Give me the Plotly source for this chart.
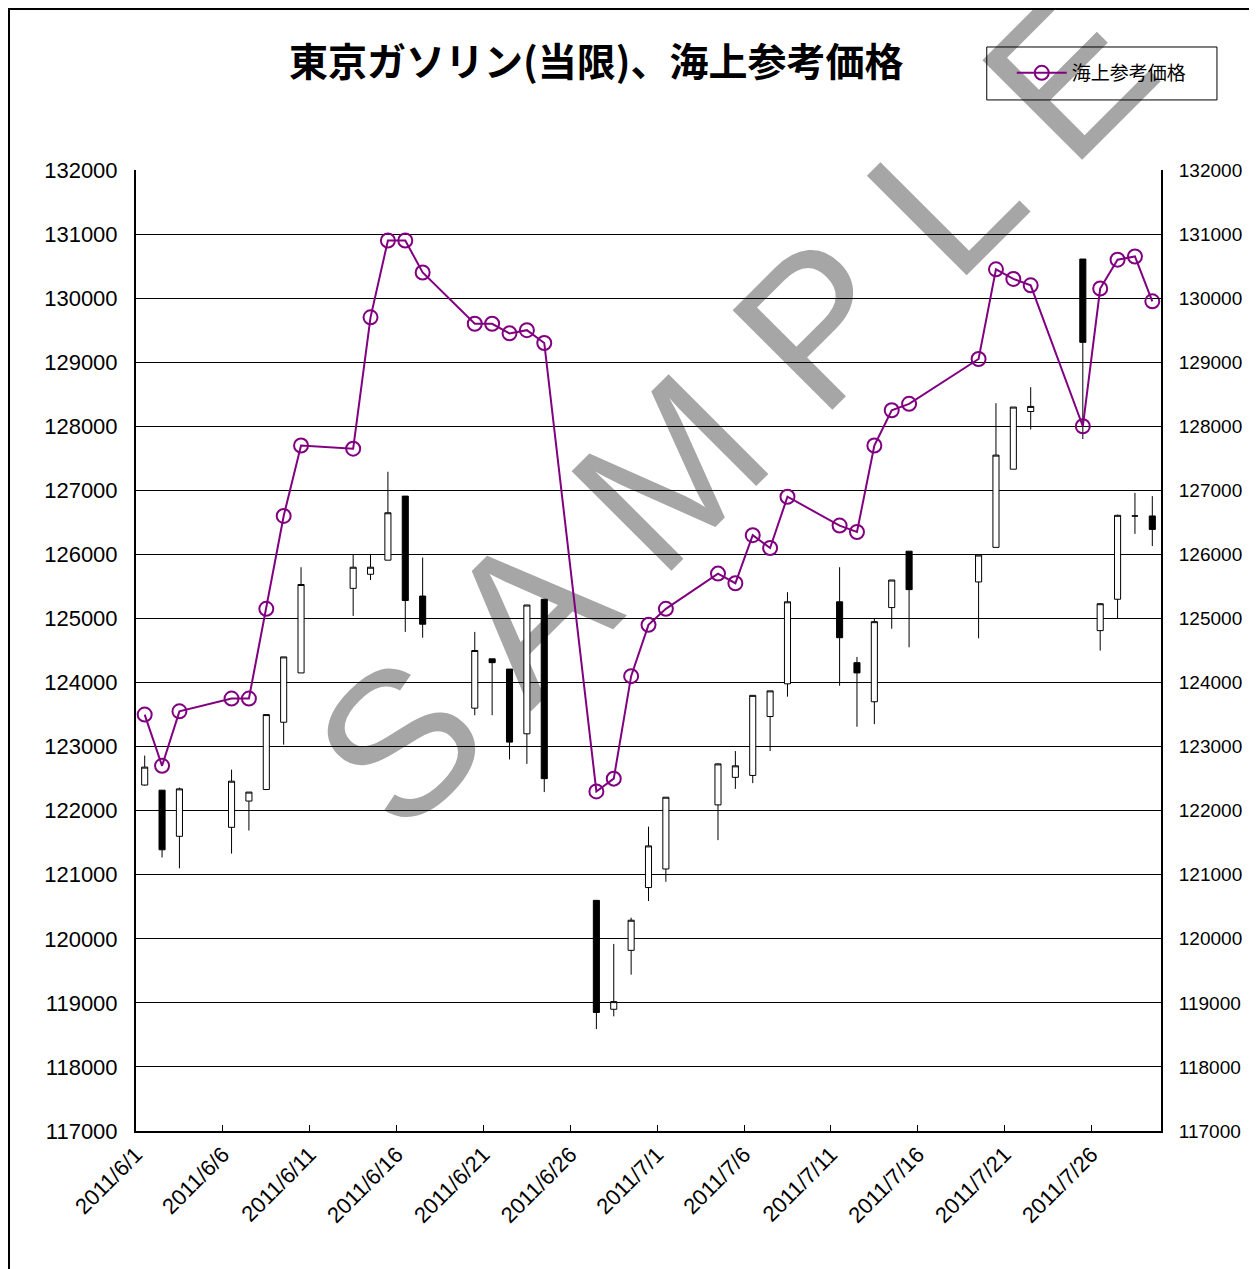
import plotly.graph_objects as go

# 東京ガソリン(当限) daily OHLC
dates = [
    "2011-06-01", "2011-06-02", "2011-06-03", "2011-06-06", "2011-06-07", "2011-06-08",
    "2011-06-09", "2011-06-10", "2011-06-13", "2011-06-14", "2011-06-15", "2011-06-16",
    "2011-06-17", "2011-06-20", "2011-06-21", "2011-06-22", "2011-06-23", "2011-06-24",
    "2011-06-27", "2011-06-28", "2011-06-29", "2011-06-30", "2011-07-01", "2011-07-04",
    "2011-07-05", "2011-07-06", "2011-07-07", "2011-07-08", "2011-07-11", "2011-07-12",
    "2011-07-13", "2011-07-14", "2011-07-15", "2011-07-19", "2011-07-20", "2011-07-21",
    "2011-07-22", "2011-07-25", "2011-07-26", "2011-07-27", "2011-07-28", "2011-07-29",
]
opens = [
    122400, 122320, 121600, 121740, 122150, 122330, 123380, 124150, 125470, 125690,
    125910, 126910, 125350, 123600, 124370, 124210, 123200, 125300, 120600, 118900,
    119820, 120800, 121090, 122090, 122520, 122550, 123470, 123980, 125260, 124310,
    123700, 125170, 126050, 125570, 126110, 127330, 128230, 130610, 124810, 125300,
    126600, 126600,
]
highs = [
    122860, 122320, 122360, 122640, 122290, 123500, 124400, 125800, 126000, 126000,
    127290, 126910, 125950, 124790, 124370, 124210, 125210, 125300, 120600, 119920,
    120330, 121750, 122210, 122740, 122930, 123800, 123870, 125410, 125800, 124400,
    125000, 125600, 126050, 125990, 128360, 128300, 128610, 130610, 125240, 126620,
    126960, 126910,
]
lows = [
    122390, 121270, 121100, 121330, 121690, 122330, 123030, 124150, 125040, 125600,
    125910, 124790, 124700, 123490, 123490, 122800, 122730, 122290, 118590, 118790,
    119440, 120590, 120890, 121540, 122340, 122430, 122930, 123780, 123950, 123310,
    123350, 124840, 124550, 124690, 126110, 127330, 127950, 127800, 124500, 125000,
    126320, 126130,
]
closes = [
    122680, 121390, 122340, 122460, 122290, 123500, 124400, 125530, 125800, 125800,
    126650, 125280, 124910, 124500, 124310, 123070, 125210, 122500, 118850, 119020,
    120290, 121450, 122210, 122730, 122700, 123800, 123870, 125260, 124700, 124150,
    124950, 125600, 125450, 125990, 127550, 128300, 128310, 129310, 125230, 126610,
    126600, 126390,
]

# 海上参考価格
ref_price = [
    123500, 122700, 123550, 123750, 123750, 125150, 126600, 127700, 127650, 129700,
    130900, 130900, 130400, 129600, 129600, 129450, 129500, 129300, 122300, 122500,
    124100, 124900, 125150, 125700, 125550, 126300, 126100, 126900, 126450, 126350,
    127700, 128250, 128350, 129050, 130450, 130300, 130200, 128000, 130150, 130600,
    130650, 129950,
]

tick_dates = [
    "2011-05-31 12:00", "2011-06-05 12:00", "2011-06-10 12:00", "2011-06-15 12:00",
    "2011-06-20 12:00", "2011-06-25 12:00", "2011-06-30 12:00", "2011-07-05 12:00",
    "2011-07-10 12:00", "2011-07-15 12:00", "2011-07-20 12:00", "2011-07-25 12:00",
]
tick_labels = [
    "2011/6/1", "2011/6/6", "2011/6/11", "2011/6/16", "2011/6/21", "2011/6/26",
    "2011/7/1", "2011/7/6", "2011/7/11", "2011/7/16", "2011/7/21", "2011/7/26",
]

JP = "Noto Sans CJK JP"
NUM = "Liberation Sans"

fig = go.Figure()
fig.add_trace(go.Candlestick(
    x=dates, open=opens, high=highs, low=lows, close=closes,
    increasing=dict(line=dict(color="black", width=1), fillcolor="white"),
    decreasing=dict(line=dict(color="black", width=1), fillcolor="black"),
    showlegend=False, hoverinfo="skip",
))
fig.add_trace(go.Scatter(
    x=dates, y=ref_price, name="海上参考価格", yaxis="y2",
    mode="lines+markers",
    line=dict(color="#800080", width=2),
    marker=dict(symbol="circle-open", size=14, color="#800080", line=dict(width=2)),
))

# watermark, drawn beneath gridlines and data
fig.add_shape(type="rect", xref="paper", yref="paper",
              x0=0.565, x1=0.575, y0=0.762, y1=0.772,
              line=dict(width=0), fillcolor="rgba(0,0,0,0)", layer="below",
              label=dict(text="S A M P L E", textangle=-45, textposition="middle center",
                         font=dict(family=NUM, size=205, color="#a6a6a6")))
# outer chart frame (figure edge)
fig.add_shape(type="rect", xref="paper", yref="paper",
              x0=-0.1239, x1=1.2, y0=-0.2, y1=1.1675,
              line=dict(color="black", width=2), layer="below")
# legend frame
fig.add_shape(type="rect", xref="paper", yref="paper",
              x0=0.830, x1=1.0546, y0=1.0729, y1=1.128,
              line=dict(color="black", width=1), layer="below")

fig.update_layout(
    width=1249, height=1261,
    margin=dict(l=128, r=96, t=162, b=138, autoexpand=False),
    paper_bgcolor="white", plot_bgcolor="rgba(0,0,0,0)",
    boxgap=0.5,
    title=dict(text="<b>東京ガソリン(当限)、海上参考価格</b>", x=0.471, y=0.957,
               xanchor="center", yanchor="middle", xref="container", yref="container",
               font=dict(family=JP, size=39, color="black")),
    legend=dict(x=0.830, y=1.101, xanchor="left", yanchor="middle",
                orientation="h", entrywidth=130, itemwidth=50, indentation=25,
                borderwidth=0, bgcolor="rgba(0,0,0,0)",
                font=dict(family=JP, size=19, color="black")),
    xaxis=dict(type="date", range=["2011-05-31 12:00", "2011-07-29 12:00"],
               rangeslider=dict(visible=False),
               tickvals=tick_dates, ticktext=tick_labels, tickangle=-45,
               ticks="inside", ticklen=6, tickcolor="black",
               showgrid=False, showline=True, linecolor="black", linewidth=2,
               tickfont=dict(family=NUM, size=22, color="black")),
    yaxis=dict(range=[117000, 132000], dtick=1000, tickformat="d",
               ticks="inside", ticklen=8, tickcolor="black",
               showgrid=True, gridcolor="black", gridwidth=1,
               showline=True, linecolor="black", linewidth=2,
               ticklabelstandoff=12,
               tickfont=dict(family=NUM, size=22, color="black")),
    yaxis2=dict(range=[117000, 132000], dtick=1000, tickformat="d",
                overlaying="y", side="right",
                ticks="inside", ticklen=8, tickcolor="black",
                showgrid=False, showline=True, linecolor="black", linewidth=2,
                ticklabelstandoff=12,
                tickfont=dict(family=NUM, size=19, color="black")),
)

fig.write_html("out.html")
